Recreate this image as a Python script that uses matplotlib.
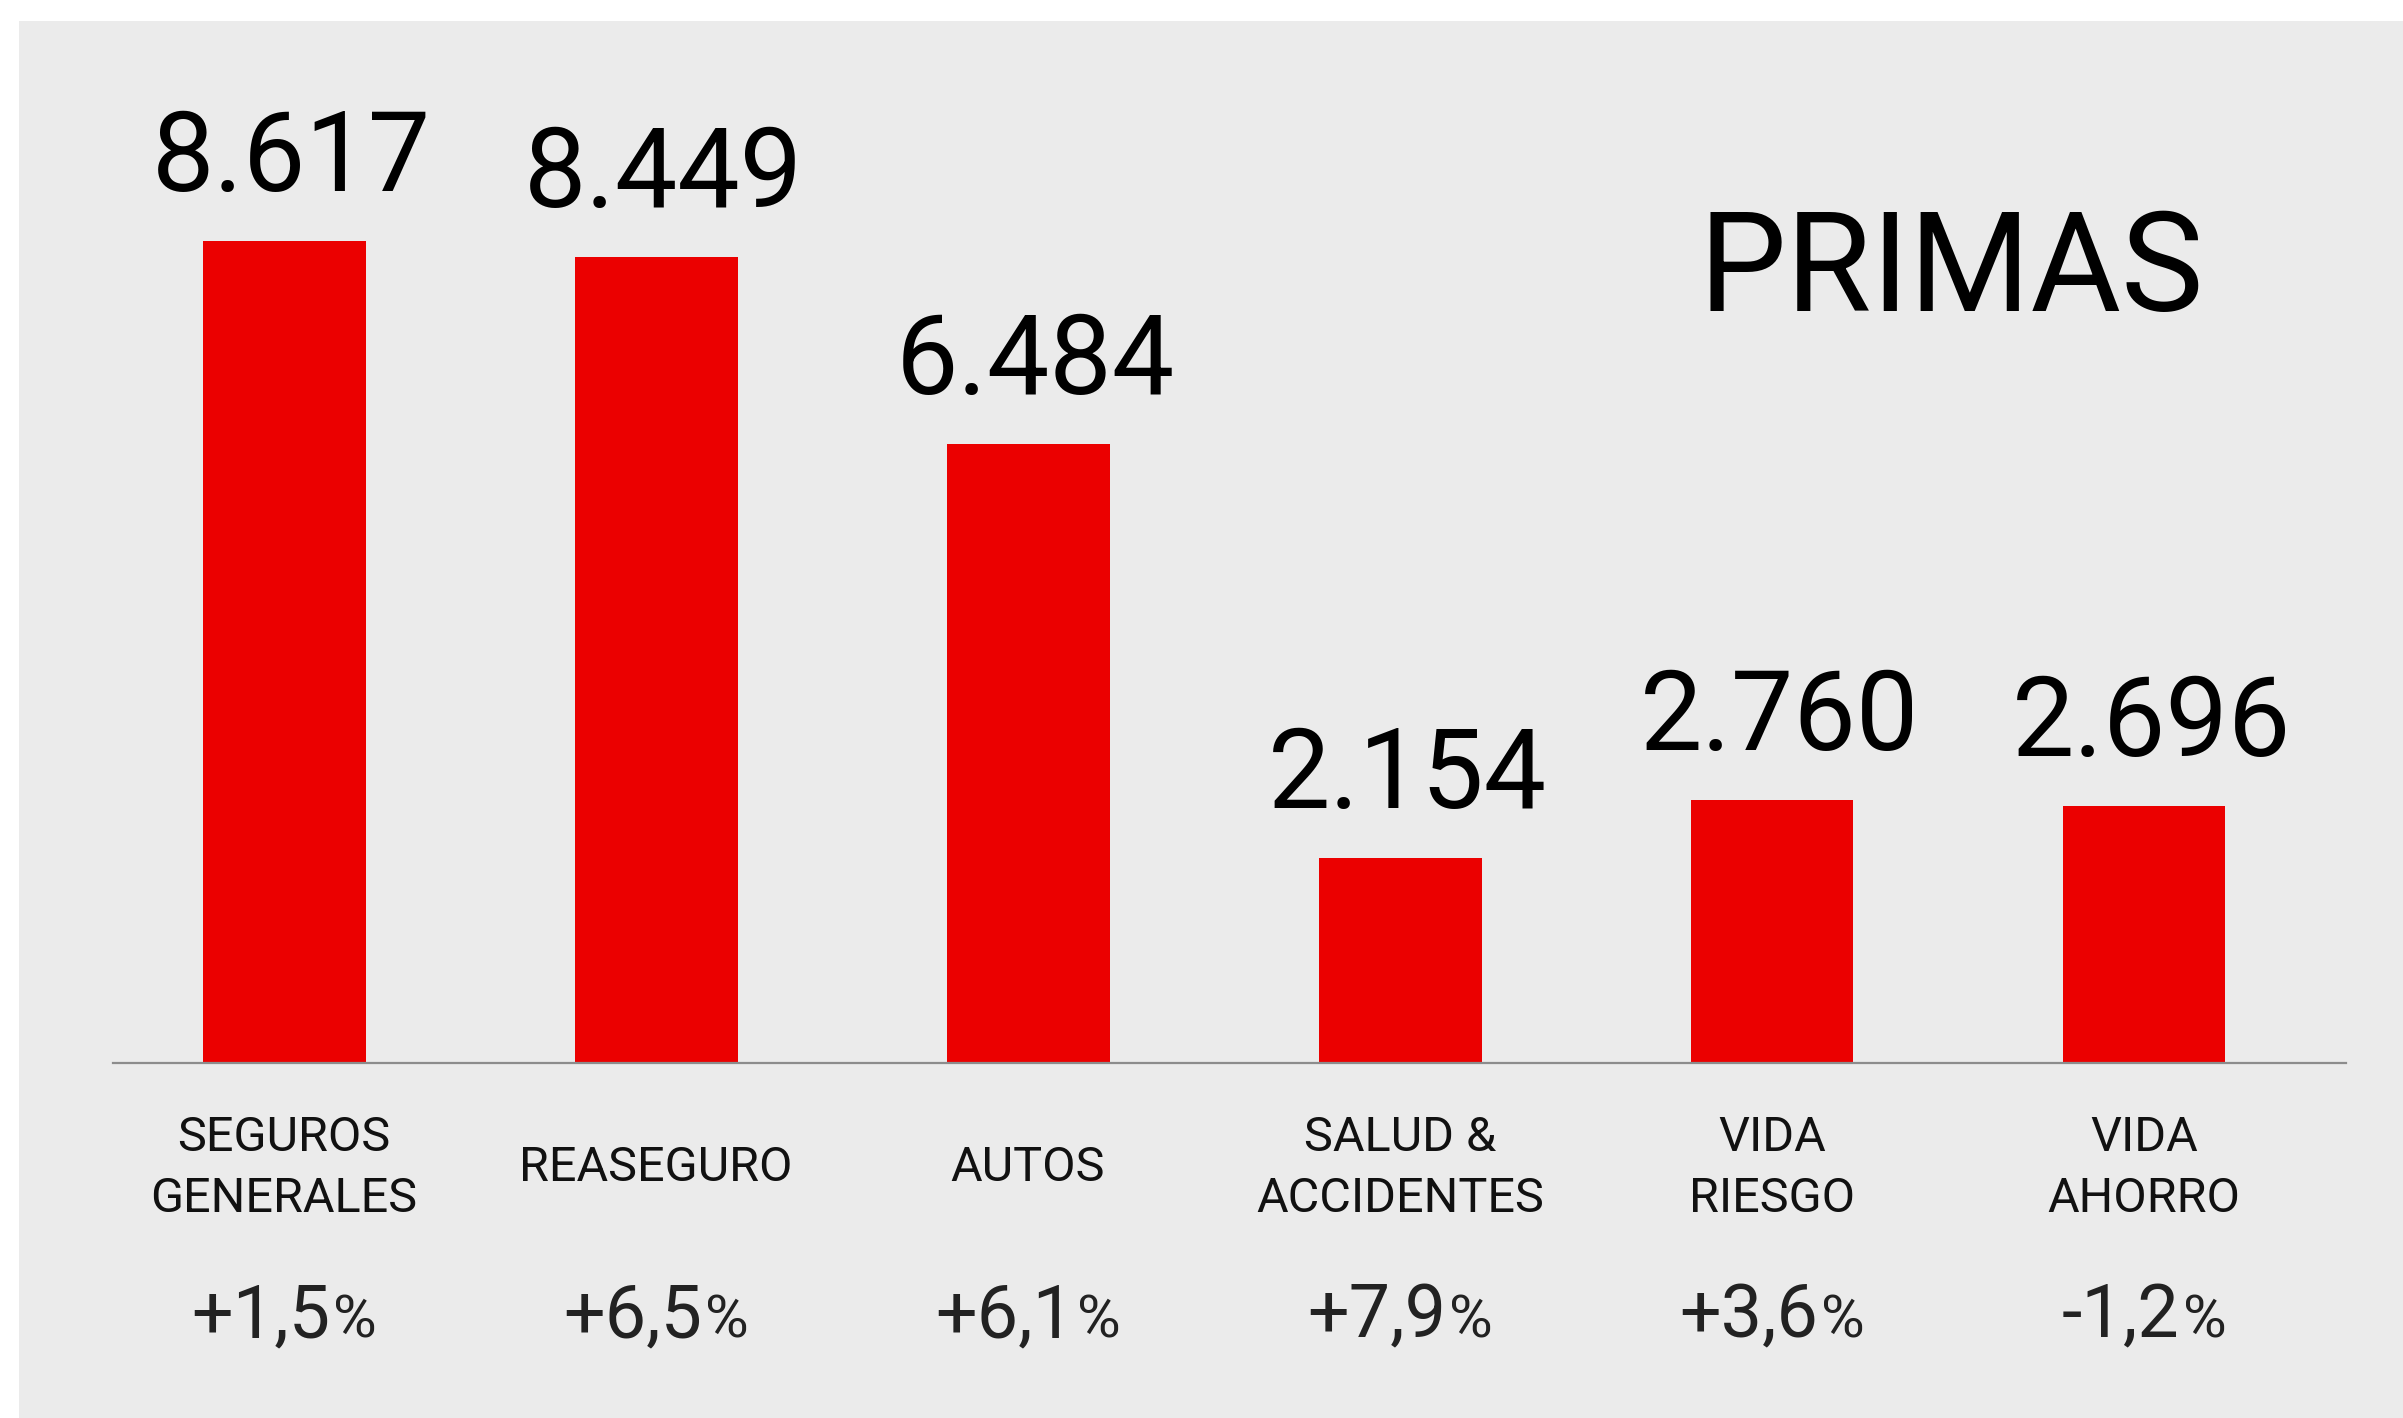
import matplotlib
matplotlib.use("Agg")
import matplotlib.pyplot as plt
from matplotlib.patches import Rectangle
from matplotlib.transforms import offset_copy

# Data
categories = ["SEGUROS\nGENERALES", "REASEGURO", "AUTOS", "SALUD &\nACCIDENTES", "VIDA\nRIESGO", "VIDA\nAHORRO"]
primas = [8617, 8449, 6484, 2154, 2760, 2696]
value_labels = ["8.617", "8.449", "6.484", "2.154", "2.760", "2.696"]
growth = ["+1,5", "+6,5", "+6,1", "+7,9", "+3,6", "-1,2"]
title = "PRIMAS"

plt.rcParams['font.family'] = ['Roboto', 'DejaVu Sans']

W, H = 2403, 1418           # output size in pixels
dpi = 100
fig = plt.figure(figsize=(W / dpi, H / dpi), dpi=dpi, facecolor='white')

# light gray panel behind everything
fig.patches.append(Rectangle((19 / W, 0), 1 - 19 / W, 1 - 21 / H, transform=fig.transFigure,
                             facecolor='#ebebeb', edgecolor='none', zorder=-5))

# axes: bottom edge is the baseline of the bars
ax = fig.add_axes([113 / W, (H - 1063) / H, (2346 - 113) / W, (1063 - 21) / H])
ax.set_facecolor('none')
ax.set_zorder(1)
x = list(range(len(primas)))
ax.bar(x, primas, width=0.438, color='#eb0000', zorder=2)
ax.set_xlim(-0.46, 5.543)
ax.set_ylim(0, 10923)
ax.axis('off')
ax.axhline(0, color='#8c8c8c', lw=1.6, zorder=3, clip_on=False)

# values above the bars
for xi, v, lbl in zip(x, primas, value_labels):
    ax.annotate(lbl, (xi + 0.02, v), xytext=(0, 36), textcoords='offset points',
                ha='center', va='baseline', fontsize=80, color='black')

# category names under the baseline
xt = ax.get_xaxis_transform()
for xi, cat in zip(x, categories):
    ax.text(xi, -0.101, cat, transform=xt, ha='center', va='center',
            fontsize=35, linespacing=1.42, color='#111111', clip_on=False)

# growth rates, with a smaller % sign
r = fig.canvas.get_renderer()
gap = 3
for xi, g in zip(x, growth):
    t1 = ax.text(xi, -0.263, g, transform=xt, ha='left', va='baseline',
                 fontsize=53, color='#222222', clip_on=False)
    t2 = ax.text(xi, -0.263, '%', transform=xt, ha='left', va='baseline',
                 fontsize=43, color='#222222', clip_on=False)
    w1 = t1.get_window_extent(r).width
    w2 = t2.get_window_extent(r).width
    start = -(w1 + gap + w2) / 2
    t1.set_transform(offset_copy(xt, fig=fig, x=start, y=0, units='dots'))
    t2.set_transform(offset_copy(xt, fig=fig, x=start + w1 + gap, y=0, units='dots'))

# title inside the panel
fig.text(1951 / W, 1 - 311 / H, title, ha='center', va='baseline', fontsize=100, color='black')

fig.savefig('out.png', dpi=dpi, facecolor='white')
plt.close(fig)
